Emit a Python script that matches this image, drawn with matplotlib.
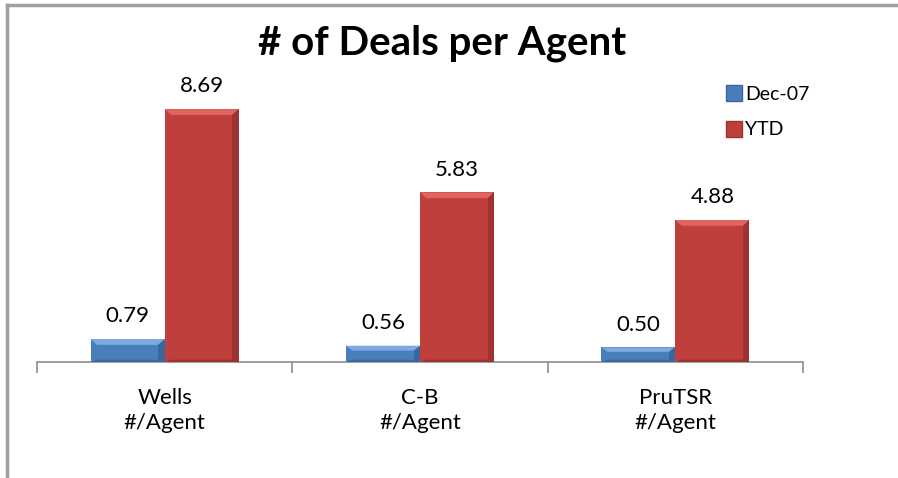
import numpy as np
import matplotlib.pyplot as plt
from matplotlib.patches import Polygon
from matplotlib.lines import Line2D

plt.rcParams['font.family'] = ['Lato', 'DejaVu Sans']

# datos del gráfico
categorias = ["Wells\n#/Agent", "C-B\n#/Agent", "PruTSR\n#/Agent"]
series = ["Dec-07", "YTD"]
dec07 = [0.79, 0.56, 0.50]
ytd = [8.69, 5.83, 4.88]

colores = {"Dec-07": "#4A7EBB", "YTD": "#BE3F3B"}
claros = {"Dec-07": "#7EAAE0", "YTD": "#E06460"}
oscuros = {"Dec-07": "#3A679C", "YTD": "#9E3230"}

fig = plt.figure(figsize=(8.98, 4.78), dpi=100)
ax = fig.add_axes([37 / 898, 1 - 362 / 478, (803 - 37) / 898, (362 - 71) / 478])

x = np.arange(len(categorias))
ancho = 0.29


def barras_bisel(xs, valores, nombre):
    rects = ax.bar(xs, valores, ancho, color=colores[nombre], label=nombre, zorder=2)
    # efecto bisel tipo Excel 2007
    for r in rects:
        x0, y0 = r.get_x(), r.get_y()
        w, h = r.get_width(), r.get_height()
        b = 0.025
        bh = min(0.2, h * 0.3)
        ax.add_patch(Polygon([(x0, y0 + h), (x0 + w, y0 + h), (x0 + w - b, y0 + h - bh),
                              (x0 + b, y0 + h - bh)], closed=True, color=claros[nombre], lw=0, zorder=3))
        ax.add_patch(Polygon([(x0 + w, y0 + h), (x0 + w, y0), (x0 + w - b, y0),
                              (x0 + w - b, y0 + h - bh)], closed=True, color=oscuros[nombre], lw=0, zorder=3))
        ax.add_patch(Polygon([(x0, y0), (x0 + w, y0), (x0 + w - b, y0 + 0.08),
                              (x0 + b, y0 + 0.08)], closed=True, color=oscuros[nombre], lw=0, zorder=3))
    for r, v in zip(rects, valores):
        ax.annotate(f"{v:.2f}", (r.get_x() + r.get_width() / 2, v), xytext=(0, 12),
                    textcoords="offset points", ha="center", va="baseline", fontsize=16)


barras_bisel(x - ancho / 2, dec07, "Dec-07")
barras_bisel(x + ancho / 2, ytd, "YTD")

ax.set_xlim(-0.5, 2.5)
ax.set_ylim(0, 10)
ax.set_yticks([])
for lado in ["top", "right", "left"]:
    ax.spines[lado].set_visible(False)
ax.spines["bottom"].set_color("#8C8C8C")
ax.spines["bottom"].set_linewidth(1.2)
ax.set_xticks([-0.5, 0.5, 1.5, 2.5])
ax.set_xticklabels([])
ax.set_xticks(x, minor=True)
ax.set_xticklabels(categorias, minor=True, fontsize=16, linespacing=1.27)
ax.tick_params(axis="x", which="major", length=8, width=1.2, color="#8C8C8C", direction="out")
ax.tick_params(axis="x", which="minor", length=0, pad=19)

fig.text(442 / 898, 1 - 55 / 478, "# of Deals per Agent", ha="center", va="baseline",
         fontsize=29, fontweight="bold")

handles = [Line2D([], [], marker="s", ls="", markersize=12, markerfacecolor=colores[s],
                  markeredgecolor=oscuros[s]) for s in series]
fig.legend(handles, series, loc="upper left", bbox_to_anchor=(726 / 898, 1 - 86 / 478),
           frameon=False, fontsize=14, handlelength=0.8, handletextpad=0.2, labelspacing=0.95,
           borderpad=0, borderaxespad=0)

# borde del área del gráfico (solo arriba e izquierda visibles)
fig.add_artist(Line2D([7 / 898, 1], [1 - 5 / 478] * 2, color="#A0A0A0", lw=2.5))
fig.add_artist(Line2D([7 / 898] * 2, [0, 1 - 5 / 478], color="#A0A0A0", lw=2.5))

fig.savefig("out.png", dpi=100)
